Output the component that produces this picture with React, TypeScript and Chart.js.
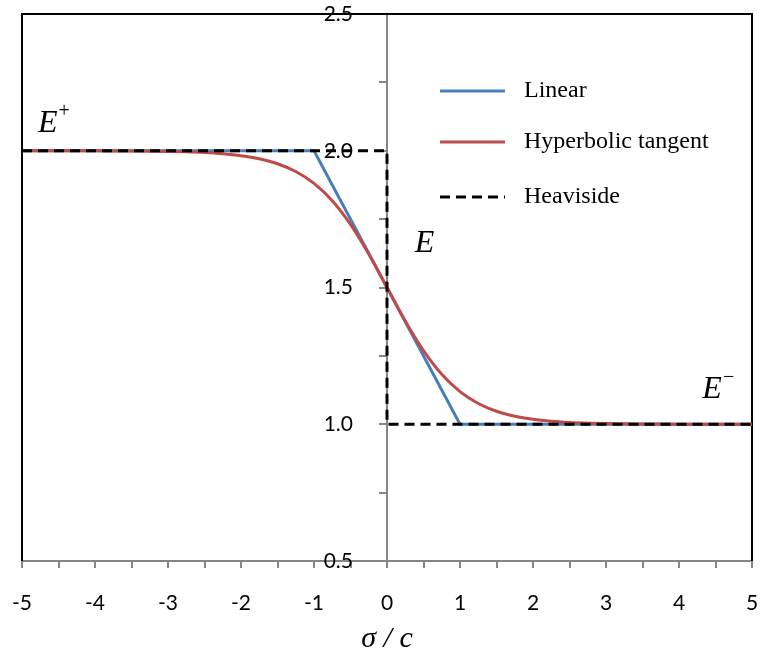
import { useEffect, useRef } from "react";
import { Chart, registerables } from "chart.js";

Chart.register(...registerables);

// Normalised stress sigma/c on the horizontal axis
const linearSigma = [-5, -1, 1, 5];
const linearE = [2, 2, 1, 1];

const tanhSigma = [
  -5, -4.75, -4.5, -4.25, -4, -3.75, -3.5, -3.25, -3, -2.75, -2.5, -2.25, -2, -1.75, -1.5, -1.25, -1, -0.75, -0.5,
  -0.25, 0, 0.25, 0.5, 0.75, 1, 1.25, 1.5, 1.75, 2, 2.25, 2.5, 2.75, 3, 3.25, 3.5, 3.75, 4, 4.25, 4.5, 4.75, 5,
];
const tanhE = [
  2.0, 1.9999, 1.9999, 1.9998, 1.9997, 1.9994, 1.9991, 1.9985, 1.9975, 1.9959, 1.9933, 1.989, 1.982, 1.9707, 1.9526,
  1.9241, 1.8808, 1.8176, 1.731, 1.6225, 1.5, 1.3775, 1.269, 1.1824, 1.1192, 1.0759, 1.0474, 1.0293, 1.018, 1.011,
  1.0067, 1.0041, 1.0025, 1.0015, 1.0009, 1.0006, 1.0003, 1.0002, 1.0001, 1.0001, 1.0,
];

const heavisideSigma = [-5, 0, 0, 5];
const heavisideE = [2, 2, 1, 1];

const seriesNames = ["Linear", "Hyperbolic tangent", "Heaviside"];
const seriesColors = ["#4A7EBB", "#BE4B48", "#000000"];
const yLabelValues = [0.5, 1.0, 1.5, 2.0, 2.5];

const AXIS_GREY = "#868686";
const HEAVI_DASH = [10, 6];

const toPoints = (xs: number[], ys: number[]) => xs.map((x, i) => ({ x, y: ys[i] }));

// Draws the frame, the y labels beside the centred axis, the E labels and the legend box
const decorations = {
  id: "decorations",
  beforeDatasetsDraw(chart: any) {
    const { ctx, chartArea: a } = chart;
    ctx.save();
    ctx.strokeStyle = "#000";
    ctx.lineWidth = 2;
    ctx.beginPath();
    ctx.moveTo(a.left, a.bottom);
    ctx.lineTo(a.left, a.top);
    ctx.lineTo(a.right, a.top);
    ctx.lineTo(a.right, a.bottom);
    ctx.stroke();
    ctx.restore();
  },
  afterDraw(chart: any) {
    const { ctx, chartArea: a } = chart;
    const xs = chart.scales.x;
    const ys = chart.scales.y;
    ctx.save();

    // value labels for the y axis sitting at sigma = 0
    const axisX = xs.getPixelForValue(0);
    ctx.fillStyle = "#000";
    ctx.font = "21px Lato";
    ctx.textAlign = "right";
    ctx.textBaseline = "middle";
    yLabelValues.forEach((v) => ctx.fillText(v.toFixed(1), axisX - 34, ys.getPixelForValue(v)));

    // E labels
    const drawE = (sx: number, sy: number, sup: string) => {
      const px = xs.getPixelForValue(sx);
      const py = ys.getPixelForValue(sy);
      ctx.textAlign = "left";
      ctx.textBaseline = "alphabetic";
      ctx.font = "italic 32px 'Liberation Serif'";
      ctx.fillText("E", px, py);
      if (sup) {
        const w = ctx.measureText("E").width;
        ctx.font = "20px 'Liberation Serif'";
        ctx.fillText(sup, px + w + 1, py - 15);
      }
    };
    drawE(-4.78, 2.068, "+");
    drawE(0.38, 1.629, "");
    drawE(4.32, 1.095, "\u2212");

    // legend
    const lx0 = a.left + 418;
    const lx1 = a.left + 483;
    const tx = a.left + 502;
    const rows = [a.top + 77, a.top + 128, a.top + 183];
    seriesNames.forEach((name, i) => {
      const y = rows[i];
      ctx.beginPath();
      ctx.strokeStyle = seriesColors[i];
      ctx.lineWidth = 3;
      ctx.setLineDash(i === 2 ? HEAVI_DASH : []);
      ctx.moveTo(lx0, y);
      ctx.lineTo(lx1, y);
      ctx.stroke();
      ctx.setLineDash([]);
      ctx.fillStyle = "#000";
      ctx.font = "24px 'Liberation Serif'";
      ctx.textAlign = "left";
      ctx.textBaseline = "middle";
      ctx.fillText(name, tx, y);
    });

    ctx.restore();
  },
};

export default function App() {
  const canvasRef = useRef<HTMLCanvasElement>(null);

  useEffect(() => {
    const canvas = canvasRef.current;
    if (!canvas) return;
    const chart = new Chart(canvas, {
      type: "scatter",
      data: {
        datasets: [
          {
            label: seriesNames[2],
            data: toPoints(heavisideSigma, heavisideE),
            showLine: true,
            borderColor: seriesColors[2],
            borderWidth: 3,
            borderDash: HEAVI_DASH,
            pointRadius: 0,
            tension: 0,
            order: 0,
          },
          {
            label: seriesNames[1],
            data: toPoints(tanhSigma, tanhE),
            showLine: true,
            borderColor: seriesColors[1],
            borderWidth: 3,
            pointRadius: 0,
            cubicInterpolationMode: "monotone",
            order: 1,
          },
          {
            label: seriesNames[0],
            data: toPoints(linearSigma, linearE),
            showLine: true,
            borderColor: seriesColors[0],
            borderWidth: 3,
            pointRadius: 0,
            tension: 0,
            order: 2,
          },
        ],
      },
      options: {
        responsive: false,
        animation: false,
        devicePixelRatio: 1,
        layout: { padding: { left: 22, right: 8, top: 14, bottom: 0 } },
        plugins: {
          legend: { display: false },
          tooltip: { enabled: false },
        },
        scales: {
          x: {
            type: "linear",
            min: -5,
            max: 5,
            position: "bottom",
            afterFit: (s: any) => {
              s.height = 97;
              s.paddingLeft = 0;
              s.paddingRight = 0;
            },
            ticks: {
              stepSize: 0.5,
              autoSkip: false,
              maxRotation: 0,
              padding: 23,
              color: "#000",
              font: { family: "Lato", size: 21 },
              callback: (v: any) => (Number.isInteger(v) ? String(v) : ""),
            },
            grid: {
              drawOnChartArea: false,
              drawTicks: true,
              tickLength: 7,
              color: AXIS_GREY,
              lineWidth: 2,
            },
            border: { color: AXIS_GREY, width: 2 },
            title: {
              display: true,
              text: "\u03c3 / c",
              color: "#000",
              font: { family: "Liberation Serif", size: 30, style: "italic", lineHeight: 1.2 },
              padding: { top: 0, bottom: 1 },
            },
          },
          y: {
            type: "linear",
            min: 0.5,
            max: 2.5,
            position: { x: 0 },
            afterFit: (s: any) => {
              s.width = 0;
              s.paddingTop = 0;
              s.paddingBottom = 0;
            },
            ticks: { stepSize: 0.25, display: false },
            grid: {
              drawOnChartArea: false,
              drawTicks: true,
              tickLength: 7,
              color: AXIS_GREY,
              lineWidth: 2,
            },
            border: { color: AXIS_GREY, width: 2 },
          },
        },
      } as any,
      plugins: [decorations],
    });
    return () => chart.destroy();
  }, []);

  return (
    <div style={{ position: "fixed", left: 0, top: 0, width: 760, height: 658, background: "#fff" }}>
      <canvas ref={canvasRef} width={760} height={658} style={{ display: "block" }} />
    </div>
  );
}
